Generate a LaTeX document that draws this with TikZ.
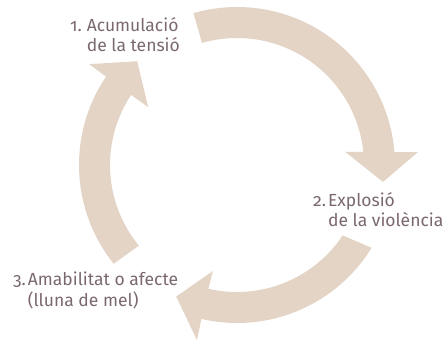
\documentclass[tikz,border=0pt]{standalone}
\usepackage{fontspec}
\setmainfont{Fira Sans}[Numbers=OldStyle]
\definecolor{arrowbeige}{RGB}{227,212,198}
\definecolor{labeltext}{RGB}{122,104,108}
\tikzset{
  cyclearrow/.style={fill=arrowbeige, draw=none},
  steplabel/.style={anchor=base west, inner sep=0pt, text=labeltext,
    font=\fontsize{17.5}{17.5}\selectfont}
}
\begin{document}
\begin{tikzpicture}[x=1pt,y=1pt]
\useasboundingbox (0,0) rectangle (447,340);
\begin{scope}[shift={(237,175)}]
  % arrow 1: top -> right
  \fill[cyclearrow] (106:158) arc[start angle=106, end angle=4.7, radius=158pt]
    -- (4.1:181.5) -- (-6.6:147) -- (6.9:109) -- (5.9:127)
    arc[start angle=5.9, end angle=106, radius=127pt] -- cycle;
  % arrow 2: right -> bottom left
  \fill[cyclearrow] (-31.6:158) arc[start angle=-31.6, end angle=-103, radius=158pt]
    -- (-102.9:179.5) -- (-114.8:145) -- (-102.8:108.7) -- (-103:127)
    arc[start angle=-103, end angle=-33.7, radius=127pt] -- cycle;
  % arrow 3: bottom left -> top
  \fill[cyclearrow] (218.7:158) arc[start angle=218.7, end angle=146, radius=158pt]
    -- (145.7:179) -- (133.9:144) -- (146.9:106) -- (146.5:127)
    arc[start angle=146.5, end angle=219.4, radius=127pt] -- cycle;
\end{scope}
\node[steplabel] (l1) at (70,308)
  {\begin{tabular}[t]{@{}l@{\hspace{5pt}}l@{}}1.&Acumulació\\&de la tensió\end{tabular}};
\node[steplabel] (l2) at (313,133)
  {\begin{tabular}[t]{@{}l@{\hspace{2pt}}l@{}}2.&Explosió\\&de la violència\end{tabular}};
\node[steplabel] (l3) at (13,54)
  {\begin{tabular}[t]{@{}l@{\hspace{2pt}}l@{}}3.&Amabilitat o afecte\\&(lluna de mel)\end{tabular}};
\end{tikzpicture}
\end{document}
